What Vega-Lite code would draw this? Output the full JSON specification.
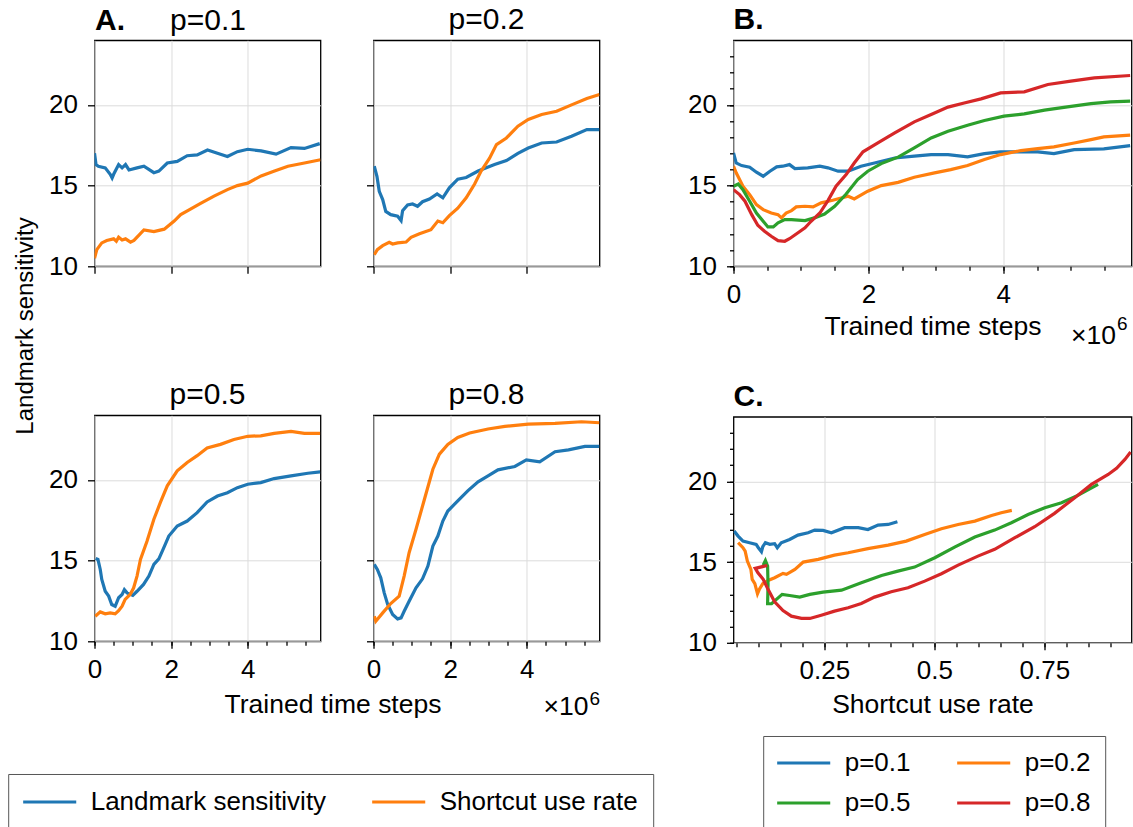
{
  "$schema": "https://vega.github.io/schema/vega-lite/v6.json",
  "background": "white",
  "padding": {"left": 7.5, "top": 4.3, "right": 2, "bottom": 0},
  "config": {
    "font": "Liberation Sans",
    "view": {"stroke": "black", "strokeWidth": 1.3},
    "axis": {"labelFont": "Liberation Sans", "labelFontSize": 26, "labelColor": "black", "titleFont": "Liberation Sans", "titleFontSize": 26.5, "titleFontWeight": "normal", "titleColor": "black", "tickColor": "black", "tickSize": 7, "tickWidth": 1.3, "domain": false, "gridColor": "#dcdcdc", "gridWidth": 1, "labelFlush": false, "labelOverlap": false},
    "axisX": {"labelPadding": 8},
    "axisY": {"labelPadding": 10},
    "title": {"font": "Liberation Sans", "fontSize": 30, "fontWeight": "normal", "color": "black", "offset": 5, "frame": "group", "anchor": "middle"},
    "legend": {"labelFont": "Liberation Sans"}
  },
  "datasets": {
    "a": [
      {"p":"p=0.1","s":"Landmark sensitivity","t":0,"v":17.0},{"p":"p=0.1","s":"Landmark sensitivity","t":0.04,"v":16.3},{"p":"p=0.1","s":"Landmark sensitivity","t":0.1,"v":16.2},{"p":"p=0.1","s":"Landmark sensitivity","t":0.28,"v":16.1},{"p":"p=0.1","s":"Landmark sensitivity","t":0.41,"v":15.7},{"p":"p=0.1","s":"Landmark sensitivity","t":0.46,"v":15.47},{"p":"p=0.1","s":"Landmark sensitivity","t":0.5,"v":15.7},{"p":"p=0.1","s":"Landmark sensitivity","t":0.63,"v":16.3},{"p":"p=0.1","s":"Landmark sensitivity","t":0.72,"v":16.1},{"p":"p=0.1","s":"Landmark sensitivity","t":0.81,"v":16.3},{"p":"p=0.1","s":"Landmark sensitivity","t":0.9,"v":15.97},{"p":"p=0.1","s":"Landmark sensitivity","t":1.11,"v":16.1},{"p":"p=0.1","s":"Landmark sensitivity","t":1.29,"v":16.2},{"p":"p=0.1","s":"Landmark sensitivity","t":1.55,"v":15.8},{"p":"p=0.1","s":"Landmark sensitivity","t":1.68,"v":15.9},{"p":"p=0.1","s":"Landmark sensitivity","t":1.9,"v":16.4},{"p":"p=0.1","s":"Landmark sensitivity","t":2.16,"v":16.5},{"p":"p=0.1","s":"Landmark sensitivity","t":2.42,"v":16.85},{"p":"p=0.1","s":"Landmark sensitivity","t":2.68,"v":16.9},{"p":"p=0.1","s":"Landmark sensitivity","t":2.95,"v":17.2},{"p":"p=0.1","s":"Landmark sensitivity","t":3.21,"v":17.0},{"p":"p=0.1","s":"Landmark sensitivity","t":3.47,"v":16.8},{"p":"p=0.1","s":"Landmark sensitivity","t":3.73,"v":17.1},{"p":"p=0.1","s":"Landmark sensitivity","t":4.0,"v":17.25},{"p":"p=0.1","s":"Landmark sensitivity","t":4.35,"v":17.15},{"p":"p=0.1","s":"Landmark sensitivity","t":4.74,"v":16.95},{"p":"p=0.1","s":"Landmark sensitivity","t":5.13,"v":17.35},{"p":"p=0.1","s":"Landmark sensitivity","t":5.48,"v":17.3},{"p":"p=0.1","s":"Landmark sensitivity","t":5.88,"v":17.6},
      {"p":"p=0.1","s":"Shortcut use rate","t":0,"v":10.5},{"p":"p=0.1","s":"Shortcut use rate","t":0.06,"v":11.03},{"p":"p=0.1","s":"Shortcut use rate","t":0.19,"v":11.45},{"p":"p=0.1","s":"Shortcut use rate","t":0.32,"v":11.6},{"p":"p=0.1","s":"Shortcut use rate","t":0.5,"v":11.7},{"p":"p=0.1","s":"Shortcut use rate","t":0.57,"v":11.55},{"p":"p=0.1","s":"Shortcut use rate","t":0.63,"v":11.8},{"p":"p=0.1","s":"Shortcut use rate","t":0.72,"v":11.63},{"p":"p=0.1","s":"Shortcut use rate","t":0.81,"v":11.7},{"p":"p=0.1","s":"Shortcut use rate","t":0.94,"v":11.5},{"p":"p=0.1","s":"Shortcut use rate","t":1.03,"v":11.6},{"p":"p=0.1","s":"Shortcut use rate","t":1.29,"v":12.25},{"p":"p=0.1","s":"Shortcut use rate","t":1.55,"v":12.15},{"p":"p=0.1","s":"Shortcut use rate","t":1.82,"v":12.3},{"p":"p=0.1","s":"Shortcut use rate","t":2.08,"v":12.8},{"p":"p=0.1","s":"Shortcut use rate","t":2.25,"v":13.2},{"p":"p=0.1","s":"Shortcut use rate","t":2.47,"v":13.5},{"p":"p=0.1","s":"Shortcut use rate","t":2.77,"v":13.9},{"p":"p=0.1","s":"Shortcut use rate","t":3.12,"v":14.35},{"p":"p=0.1","s":"Shortcut use rate","t":3.47,"v":14.75},{"p":"p=0.1","s":"Shortcut use rate","t":3.73,"v":15.0},{"p":"p=0.1","s":"Shortcut use rate","t":4.0,"v":15.15},{"p":"p=0.1","s":"Shortcut use rate","t":4.35,"v":15.6},{"p":"p=0.1","s":"Shortcut use rate","t":4.7,"v":15.9},{"p":"p=0.1","s":"Shortcut use rate","t":5.05,"v":16.2},{"p":"p=0.1","s":"Shortcut use rate","t":5.48,"v":16.4},{"p":"p=0.1","s":"Shortcut use rate","t":5.9,"v":16.6},
      {"p":"p=0.2","s":"Landmark sensitivity","t":0.02,"v":16.2},{"p":"p=0.2","s":"Landmark sensitivity","t":0.09,"v":15.58},{"p":"p=0.2","s":"Landmark sensitivity","t":0.15,"v":14.65},{"p":"p=0.2","s":"Landmark sensitivity","t":0.24,"v":14.13},{"p":"p=0.2","s":"Landmark sensitivity","t":0.32,"v":13.4},{"p":"p=0.2","s":"Landmark sensitivity","t":0.45,"v":13.2},{"p":"p=0.2","s":"Landmark sensitivity","t":0.63,"v":13.1},{"p":"p=0.2","s":"Landmark sensitivity","t":0.72,"v":12.83},{"p":"p=0.2","s":"Landmark sensitivity","t":0.76,"v":13.45},{"p":"p=0.2","s":"Landmark sensitivity","t":0.89,"v":13.8},{"p":"p=0.2","s":"Landmark sensitivity","t":1.02,"v":13.86},{"p":"p=0.2","s":"Landmark sensitivity","t":1.15,"v":13.72},{"p":"p=0.2","s":"Landmark sensitivity","t":1.28,"v":14.0},{"p":"p=0.2","s":"Landmark sensitivity","t":1.46,"v":14.17},{"p":"p=0.2","s":"Landmark sensitivity","t":1.66,"v":14.48},{"p":"p=0.2","s":"Landmark sensitivity","t":1.81,"v":14.24},{"p":"p=0.2","s":"Landmark sensitivity","t":1.98,"v":14.86},{"p":"p=0.2","s":"Landmark sensitivity","t":2.2,"v":15.4},{"p":"p=0.2","s":"Landmark sensitivity","t":2.42,"v":15.5},{"p":"p=0.2","s":"Landmark sensitivity","t":2.73,"v":15.9},{"p":"p=0.2","s":"Landmark sensitivity","t":3.16,"v":16.3},{"p":"p=0.2","s":"Landmark sensitivity","t":3.47,"v":16.55},{"p":"p=0.2","s":"Landmark sensitivity","t":3.77,"v":17.0},{"p":"p=0.2","s":"Landmark sensitivity","t":4.04,"v":17.33},{"p":"p=0.2","s":"Landmark sensitivity","t":4.39,"v":17.64},{"p":"p=0.2","s":"Landmark sensitivity","t":4.78,"v":17.7},{"p":"p=0.2","s":"Landmark sensitivity","t":5.17,"v":18.06},{"p":"p=0.2","s":"Landmark sensitivity","t":5.57,"v":18.47},{"p":"p=0.2","s":"Landmark sensitivity","t":5.9,"v":18.47},
      {"p":"p=0.2","s":"Shortcut use rate","t":0.02,"v":10.72},{"p":"p=0.2","s":"Shortcut use rate","t":0.1,"v":11.03},{"p":"p=0.2","s":"Shortcut use rate","t":0.24,"v":11.28},{"p":"p=0.2","s":"Shortcut use rate","t":0.41,"v":11.49},{"p":"p=0.2","s":"Shortcut use rate","t":0.5,"v":11.38},{"p":"p=0.2","s":"Shortcut use rate","t":0.63,"v":11.45},{"p":"p=0.2","s":"Shortcut use rate","t":0.85,"v":11.5},{"p":"p=0.2","s":"Shortcut use rate","t":0.98,"v":11.8},{"p":"p=0.2","s":"Shortcut use rate","t":1.2,"v":12.02},{"p":"p=0.2","s":"Shortcut use rate","t":1.5,"v":12.27},{"p":"p=0.2","s":"Shortcut use rate","t":1.68,"v":12.8},{"p":"p=0.2","s":"Shortcut use rate","t":1.81,"v":12.7},{"p":"p=0.2","s":"Shortcut use rate","t":1.98,"v":13.14},{"p":"p=0.2","s":"Shortcut use rate","t":2.2,"v":13.6},{"p":"p=0.2","s":"Shortcut use rate","t":2.42,"v":14.24},{"p":"p=0.2","s":"Shortcut use rate","t":2.64,"v":15.1},{"p":"p=0.2","s":"Shortcut use rate","t":2.81,"v":15.9},{"p":"p=0.2","s":"Shortcut use rate","t":3.03,"v":16.7},{"p":"p=0.2","s":"Shortcut use rate","t":3.21,"v":17.54},{"p":"p=0.2","s":"Shortcut use rate","t":3.47,"v":17.95},{"p":"p=0.2","s":"Shortcut use rate","t":3.77,"v":18.68},{"p":"p=0.2","s":"Shortcut use rate","t":4.04,"v":19.1},{"p":"p=0.2","s":"Shortcut use rate","t":4.39,"v":19.4},{"p":"p=0.2","s":"Shortcut use rate","t":4.78,"v":19.6},{"p":"p=0.2","s":"Shortcut use rate","t":5.17,"v":20.0},{"p":"p=0.2","s":"Shortcut use rate","t":5.57,"v":20.4},{"p":"p=0.2","s":"Shortcut use rate","t":5.9,"v":20.64},
      {"p":"p=0.5","s":"Landmark sensitivity","t":0.03,"v":15.13},{"p":"p=0.5","s":"Landmark sensitivity","t":0.09,"v":15.07},{"p":"p=0.5","s":"Landmark sensitivity","t":0.15,"v":14.45},{"p":"p=0.5","s":"Landmark sensitivity","t":0.19,"v":13.83},{"p":"p=0.5","s":"Landmark sensitivity","t":0.28,"v":13.1},{"p":"p=0.5","s":"Landmark sensitivity","t":0.37,"v":12.8},{"p":"p=0.5","s":"Landmark sensitivity","t":0.45,"v":12.28},{"p":"p=0.5","s":"Landmark sensitivity","t":0.54,"v":12.17},{"p":"p=0.5","s":"Landmark sensitivity","t":0.63,"v":12.7},{"p":"p=0.5","s":"Landmark sensitivity","t":0.72,"v":12.9},{"p":"p=0.5","s":"Landmark sensitivity","t":0.78,"v":13.2},{"p":"p=0.5","s":"Landmark sensitivity","t":0.85,"v":13.0},{"p":"p=0.5","s":"Landmark sensitivity","t":1.0,"v":12.84},{"p":"p=0.5","s":"Landmark sensitivity","t":1.11,"v":13.1},{"p":"p=0.5","s":"Landmark sensitivity","t":1.28,"v":13.52},{"p":"p=0.5","s":"Landmark sensitivity","t":1.42,"v":14.04},{"p":"p=0.5","s":"Landmark sensitivity","t":1.55,"v":14.76},{"p":"p=0.5","s":"Landmark sensitivity","t":1.68,"v":15.11},{"p":"p=0.5","s":"Landmark sensitivity","t":1.81,"v":15.8},{"p":"p=0.5","s":"Landmark sensitivity","t":1.94,"v":16.52},{"p":"p=0.5","s":"Landmark sensitivity","t":2.16,"v":17.14},{"p":"p=0.5","s":"Landmark sensitivity","t":2.42,"v":17.45},{"p":"p=0.5","s":"Landmark sensitivity","t":2.68,"v":17.97},{"p":"p=0.5","s":"Landmark sensitivity","t":2.94,"v":18.63},{"p":"p=0.5","s":"Landmark sensitivity","t":3.21,"v":19.0},{"p":"p=0.5","s":"Landmark sensitivity","t":3.47,"v":19.2},{"p":"p=0.5","s":"Landmark sensitivity","t":3.73,"v":19.52},{"p":"p=0.5","s":"Landmark sensitivity","t":4.0,"v":19.73},{"p":"p=0.5","s":"Landmark sensitivity","t":4.34,"v":19.83},{"p":"p=0.5","s":"Landmark sensitivity","t":4.69,"v":20.08},{"p":"p=0.5","s":"Landmark sensitivity","t":5.13,"v":20.25},{"p":"p=0.5","s":"Landmark sensitivity","t":5.57,"v":20.41},{"p":"p=0.5","s":"Landmark sensitivity","t":5.89,"v":20.5},
      {"p":"p=0.5","s":"Shortcut use rate","t":0.02,"v":11.55},{"p":"p=0.5","s":"Shortcut use rate","t":0.15,"v":11.82},{"p":"p=0.5","s":"Shortcut use rate","t":0.28,"v":11.7},{"p":"p=0.5","s":"Shortcut use rate","t":0.41,"v":11.76},{"p":"p=0.5","s":"Shortcut use rate","t":0.54,"v":11.7},{"p":"p=0.5","s":"Shortcut use rate","t":0.63,"v":11.9},{"p":"p=0.5","s":"Shortcut use rate","t":0.72,"v":12.17},{"p":"p=0.5","s":"Shortcut use rate","t":0.8,"v":12.6},{"p":"p=0.5","s":"Shortcut use rate","t":0.93,"v":12.9},{"p":"p=0.5","s":"Shortcut use rate","t":1.02,"v":13.3},{"p":"p=0.5","s":"Shortcut use rate","t":1.11,"v":14.04},{"p":"p=0.5","s":"Shortcut use rate","t":1.2,"v":15.07},{"p":"p=0.5","s":"Shortcut use rate","t":1.37,"v":16.2},{"p":"p=0.5","s":"Shortcut use rate","t":1.55,"v":17.56},{"p":"p=0.5","s":"Shortcut use rate","t":1.72,"v":18.6},{"p":"p=0.5","s":"Shortcut use rate","t":1.9,"v":19.63},{"p":"p=0.5","s":"Shortcut use rate","t":2.16,"v":20.56},{"p":"p=0.5","s":"Shortcut use rate","t":2.42,"v":21.08},{"p":"p=0.5","s":"Shortcut use rate","t":2.68,"v":21.5},{"p":"p=0.5","s":"Shortcut use rate","t":2.94,"v":21.97},{"p":"p=0.5","s":"Shortcut use rate","t":3.29,"v":22.2},{"p":"p=0.5","s":"Shortcut use rate","t":3.64,"v":22.5},{"p":"p=0.5","s":"Shortcut use rate","t":4.0,"v":22.7},{"p":"p=0.5","s":"Shortcut use rate","t":4.34,"v":22.73},{"p":"p=0.5","s":"Shortcut use rate","t":4.69,"v":22.88},{"p":"p=0.5","s":"Shortcut use rate","t":5.13,"v":23.0},{"p":"p=0.5","s":"Shortcut use rate","t":5.48,"v":22.88},{"p":"p=0.5","s":"Shortcut use rate","t":5.89,"v":22.88},
      {"p":"p=0.8","s":"Landmark sensitivity","t":0.02,"v":14.76},{"p":"p=0.8","s":"Landmark sensitivity","t":0.1,"v":14.45},{"p":"p=0.8","s":"Landmark sensitivity","t":0.19,"v":13.93},{"p":"p=0.8","s":"Landmark sensitivity","t":0.28,"v":13.0},{"p":"p=0.8","s":"Landmark sensitivity","t":0.37,"v":12.28},{"p":"p=0.8","s":"Landmark sensitivity","t":0.5,"v":11.66},{"p":"p=0.8","s":"Landmark sensitivity","t":0.63,"v":11.39},{"p":"p=0.8","s":"Landmark sensitivity","t":0.72,"v":11.45},{"p":"p=0.8","s":"Landmark sensitivity","t":0.8,"v":11.86},{"p":"p=0.8","s":"Landmark sensitivity","t":0.93,"v":12.48},{"p":"p=0.8","s":"Landmark sensitivity","t":1.11,"v":13.31},{"p":"p=0.8","s":"Landmark sensitivity","t":1.28,"v":13.87},{"p":"p=0.8","s":"Landmark sensitivity","t":1.42,"v":14.66},{"p":"p=0.8","s":"Landmark sensitivity","t":1.55,"v":15.9},{"p":"p=0.8","s":"Landmark sensitivity","t":1.68,"v":16.52},{"p":"p=0.8","s":"Landmark sensitivity","t":1.81,"v":17.45},{"p":"p=0.8","s":"Landmark sensitivity","t":1.94,"v":18.07},{"p":"p=0.8","s":"Landmark sensitivity","t":2.2,"v":18.7},{"p":"p=0.8","s":"Landmark sensitivity","t":2.46,"v":19.32},{"p":"p=0.8","s":"Landmark sensitivity","t":2.73,"v":19.88},{"p":"p=0.8","s":"Landmark sensitivity","t":2.99,"v":20.25},{"p":"p=0.8","s":"Landmark sensitivity","t":3.25,"v":20.62},{"p":"p=0.8","s":"Landmark sensitivity","t":3.69,"v":20.83},{"p":"p=0.8","s":"Landmark sensitivity","t":3.99,"v":21.24},{"p":"p=0.8","s":"Landmark sensitivity","t":4.34,"v":21.12},{"p":"p=0.8","s":"Landmark sensitivity","t":4.74,"v":21.74},{"p":"p=0.8","s":"Landmark sensitivity","t":5.09,"v":21.86},{"p":"p=0.8","s":"Landmark sensitivity","t":5.52,"v":22.07},{"p":"p=0.8","s":"Landmark sensitivity","t":5.9,"v":22.07},
      {"p":"p=0.8","s":"Shortcut use rate","t":0.02,"v":11.55},{"p":"p=0.8","s":"Shortcut use rate","t":0.06,"v":11.24},{"p":"p=0.8","s":"Shortcut use rate","t":0.24,"v":11.76},{"p":"p=0.8","s":"Shortcut use rate","t":0.45,"v":12.34},{"p":"p=0.8","s":"Shortcut use rate","t":0.67,"v":12.8},{"p":"p=0.8","s":"Shortcut use rate","t":0.8,"v":14.04},{"p":"p=0.8","s":"Shortcut use rate","t":0.93,"v":15.49},{"p":"p=0.8","s":"Shortcut use rate","t":1.11,"v":16.94},{"p":"p=0.8","s":"Shortcut use rate","t":1.33,"v":18.8},{"p":"p=0.8","s":"Shortcut use rate","t":1.55,"v":20.66},{"p":"p=0.8","s":"Shortcut use rate","t":1.72,"v":21.59},{"p":"p=0.8","s":"Shortcut use rate","t":1.94,"v":22.2},{"p":"p=0.8","s":"Shortcut use rate","t":2.2,"v":22.63},{"p":"p=0.8","s":"Shortcut use rate","t":2.51,"v":22.9},{"p":"p=0.8","s":"Shortcut use rate","t":2.99,"v":23.15},{"p":"p=0.8","s":"Shortcut use rate","t":3.43,"v":23.31},{"p":"p=0.8","s":"Shortcut use rate","t":4.04,"v":23.45},{"p":"p=0.8","s":"Shortcut use rate","t":4.74,"v":23.5},{"p":"p=0.8","s":"Shortcut use rate","t":5.43,"v":23.6},{"p":"p=0.8","s":"Shortcut use rate","t":5.9,"v":23.54}
    ],
    "b": [
      {"p":"p=0.1","t":0,"v":17.02},{"p":"p=0.1","t":0.04,"v":16.4},{"p":"p=0.1","t":0.12,"v":16.24},{"p":"p=0.1","t":0.24,"v":16.14},{"p":"p=0.1","t":0.34,"v":15.83},{"p":"p=0.1","t":0.44,"v":15.58},{"p":"p=0.1","t":0.54,"v":15.89},{"p":"p=0.1","t":0.64,"v":16.16},{"p":"p=0.1","t":0.73,"v":16.2},{"p":"p=0.1","t":0.83,"v":16.3},{"p":"p=0.1","t":0.91,"v":16.05},{"p":"p=0.1","t":1.1,"v":16.1},{"p":"p=0.1","t":1.28,"v":16.2},{"p":"p=0.1","t":1.4,"v":16.1},{"p":"p=0.1","t":1.55,"v":15.89},{"p":"p=0.1","t":1.7,"v":15.89},{"p":"p=0.1","t":1.89,"v":16.2},{"p":"p=0.1","t":2.09,"v":16.4},{"p":"p=0.1","t":2.39,"v":16.71},{"p":"p=0.1","t":2.68,"v":16.82},{"p":"p=0.1","t":2.93,"v":16.92},{"p":"p=0.1","t":3.18,"v":16.92},{"p":"p=0.1","t":3.47,"v":16.78},{"p":"p=0.1","t":3.72,"v":16.98},{"p":"p=0.1","t":3.96,"v":17.09},{"p":"p=0.1","t":4.26,"v":17.09},{"p":"p=0.1","t":4.51,"v":17.09},{"p":"p=0.1","t":4.75,"v":16.98},{"p":"p=0.1","t":5.05,"v":17.23},{"p":"p=0.1","t":5.49,"v":17.27},{"p":"p=0.1","t":5.88,"v":17.48},
      {"p":"p=0.2","t":0,"v":16.2},{"p":"p=0.2","t":0.04,"v":15.79},{"p":"p=0.2","t":0.14,"v":14.96},{"p":"p=0.2","t":0.24,"v":14.44},{"p":"p=0.2","t":0.34,"v":13.82},{"p":"p=0.2","t":0.44,"v":13.51},{"p":"p=0.2","t":0.56,"v":13.3},{"p":"p=0.2","t":0.66,"v":13.2},{"p":"p=0.2","t":0.71,"v":13.0},{"p":"p=0.2","t":0.78,"v":13.3},{"p":"p=0.2","t":0.86,"v":13.45},{"p":"p=0.2","t":0.93,"v":13.68},{"p":"p=0.2","t":1.06,"v":13.72},{"p":"p=0.2","t":1.18,"v":13.68},{"p":"p=0.2","t":1.3,"v":13.93},{"p":"p=0.2","t":1.47,"v":14.09},{"p":"p=0.2","t":1.7,"v":14.34},{"p":"p=0.2","t":1.79,"v":14.17},{"p":"p=0.2","t":1.99,"v":14.65},{"p":"p=0.2","t":2.19,"v":15.0},{"p":"p=0.2","t":2.44,"v":15.2},{"p":"p=0.2","t":2.68,"v":15.52},{"p":"p=0.2","t":2.98,"v":15.79},{"p":"p=0.2","t":3.22,"v":15.99},{"p":"p=0.2","t":3.47,"v":16.24},{"p":"p=0.2","t":3.72,"v":16.61},{"p":"p=0.2","t":3.96,"v":16.92},{"p":"p=0.2","t":4.26,"v":17.17},{"p":"p=0.2","t":4.51,"v":17.29},{"p":"p=0.2","t":4.75,"v":17.4},{"p":"p=0.2","t":5.05,"v":17.64},{"p":"p=0.2","t":5.3,"v":17.85},{"p":"p=0.2","t":5.49,"v":18.02},{"p":"p=0.2","t":5.88,"v":18.12},
      {"p":"p=0.5","t":0,"v":14.96},{"p":"p=0.5","t":0.07,"v":15.1},{"p":"p=0.5","t":0.14,"v":14.75},{"p":"p=0.5","t":0.24,"v":14.03},{"p":"p=0.5","t":0.34,"v":13.3},{"p":"p=0.5","t":0.44,"v":12.79},{"p":"p=0.5","t":0.51,"v":12.44},{"p":"p=0.5","t":0.59,"v":12.44},{"p":"p=0.5","t":0.66,"v":12.69},{"p":"p=0.5","t":0.76,"v":12.89},{"p":"p=0.5","t":0.86,"v":12.89},{"p":"p=0.5","t":1.06,"v":12.83},{"p":"p=0.5","t":1.2,"v":13.0},{"p":"p=0.5","t":1.35,"v":13.24},{"p":"p=0.5","t":1.5,"v":13.72},{"p":"p=0.5","t":1.67,"v":14.48},{"p":"p=0.5","t":1.84,"v":15.37},{"p":"p=0.5","t":1.99,"v":15.89},{"p":"p=0.5","t":2.19,"v":16.36},{"p":"p=0.5","t":2.44,"v":16.76},{"p":"p=0.5","t":2.68,"v":17.33},{"p":"p=0.5","t":2.93,"v":17.95},{"p":"p=0.5","t":3.18,"v":18.37},{"p":"p=0.5","t":3.47,"v":18.74},{"p":"p=0.5","t":3.72,"v":19.03},{"p":"p=0.5","t":4.01,"v":19.3},{"p":"p=0.5","t":4.31,"v":19.44},{"p":"p=0.5","t":4.61,"v":19.67},{"p":"p=0.5","t":4.95,"v":19.88},{"p":"p=0.5","t":5.3,"v":20.08},{"p":"p=0.5","t":5.59,"v":20.19},{"p":"p=0.5","t":5.88,"v":20.23},
      {"p":"p=0.8","t":0,"v":14.75},{"p":"p=0.8","t":0.09,"v":14.44},{"p":"p=0.8","t":0.17,"v":14.03},{"p":"p=0.8","t":0.27,"v":13.2},{"p":"p=0.8","t":0.36,"v":12.54},{"p":"p=0.8","t":0.46,"v":12.17},{"p":"p=0.8","t":0.56,"v":11.86},{"p":"p=0.8","t":0.66,"v":11.59},{"p":"p=0.8","t":0.76,"v":11.55},{"p":"p=0.8","t":0.83,"v":11.71},{"p":"p=0.8","t":0.93,"v":12.0},{"p":"p=0.8","t":1.06,"v":12.38},{"p":"p=0.8","t":1.15,"v":12.79},{"p":"p=0.8","t":1.28,"v":13.3},{"p":"p=0.8","t":1.4,"v":14.07},{"p":"p=0.8","t":1.52,"v":14.96},{"p":"p=0.8","t":1.67,"v":15.68},{"p":"p=0.8","t":1.79,"v":16.4},{"p":"p=0.8","t":1.92,"v":17.09},{"p":"p=0.8","t":2.14,"v":17.64},{"p":"p=0.8","t":2.39,"v":18.26},{"p":"p=0.8","t":2.68,"v":18.95},{"p":"p=0.8","t":2.93,"v":19.4},{"p":"p=0.8","t":3.18,"v":19.86},{"p":"p=0.8","t":3.42,"v":20.12},{"p":"p=0.8","t":3.67,"v":20.37},{"p":"p=0.8","t":3.96,"v":20.74},{"p":"p=0.8","t":4.31,"v":20.81},{"p":"p=0.8","t":4.66,"v":21.26},{"p":"p=0.8","t":5.0,"v":21.47},{"p":"p=0.8","t":5.35,"v":21.67},{"p":"p=0.8","t":5.88,"v":21.82}
    ],
    "c": [
      {"p":"p=0.1","i":0,"r":0.045,"v":16.92},{"p":"p=0.1","i":1,"r":0.054,"v":16.61},{"p":"p=0.1","i":2,"r":0.065,"v":16.3},{"p":"p=0.1","i":3,"r":0.08,"v":16.2},{"p":"p=0.1","i":4,"r":0.095,"v":16.1},{"p":"p=0.1","i":5,"r":0.1,"v":15.89},{"p":"p=0.1","i":6,"r":0.107,"v":15.64},{"p":"p=0.1","i":7,"r":0.11,"v":15.95},{"p":"p=0.1","i":8,"r":0.116,"v":16.2},{"p":"p=0.1","i":9,"r":0.126,"v":16.1},{"p":"p=0.1","i":10,"r":0.137,"v":16.14},{"p":"p=0.1","i":11,"r":0.143,"v":15.89},{"p":"p=0.1","i":12,"r":0.152,"v":16.2},{"p":"p=0.1","i":13,"r":0.171,"v":16.4},{"p":"p=0.1","i":14,"r":0.19,"v":16.67},{"p":"p=0.1","i":15,"r":0.213,"v":16.82},{"p":"p=0.1","i":16,"r":0.228,"v":16.98},{"p":"p=0.1","i":17,"r":0.247,"v":16.96},{"p":"p=0.1","i":18,"r":0.266,"v":16.82},{"p":"p=0.1","i":19,"r":0.296,"v":17.13},{"p":"p=0.1","i":20,"r":0.327,"v":17.13},{"p":"p=0.1","i":21,"r":0.349,"v":17.02},{"p":"p=0.1","i":22,"r":0.372,"v":17.29},{"p":"p=0.1","i":23,"r":0.395,"v":17.33},{"p":"p=0.1","i":24,"r":0.416,"v":17.5},
      {"p":"p=0.2","i":0,"r":0.054,"v":16.2},{"p":"p=0.2","i":1,"r":0.065,"v":15.89},{"p":"p=0.2","i":2,"r":0.07,"v":15.68},{"p":"p=0.2","i":3,"r":0.075,"v":15.06},{"p":"p=0.2","i":4,"r":0.083,"v":14.55},{"p":"p=0.2","i":5,"r":0.086,"v":13.93},{"p":"p=0.2","i":6,"r":0.092,"v":13.66},{"p":"p=0.2","i":7,"r":0.098,"v":13.04},{"p":"p=0.2","i":8,"r":0.102,"v":13.3},{"p":"p=0.2","i":9,"r":0.11,"v":13.66},{"p":"p=0.2","i":10,"r":0.122,"v":13.86},{"p":"p=0.2","i":11,"r":0.137,"v":14.03},{"p":"p=0.2","i":12,"r":0.156,"v":14.3},{"p":"p=0.2","i":13,"r":0.164,"v":14.24},{"p":"p=0.2","i":14,"r":0.183,"v":14.55},{"p":"p=0.2","i":15,"r":0.202,"v":15.0},{"p":"p=0.2","i":16,"r":0.236,"v":15.17},{"p":"p=0.2","i":17,"r":0.273,"v":15.43},{"p":"p=0.2","i":18,"r":0.304,"v":15.58},{"p":"p=0.2","i":19,"r":0.349,"v":15.83},{"p":"p=0.2","i":20,"r":0.395,"v":16.05},{"p":"p=0.2","i":21,"r":0.436,"v":16.3},{"p":"p=0.2","i":22,"r":0.478,"v":16.71},{"p":"p=0.2","i":23,"r":0.516,"v":17.07},{"p":"p=0.2","i":24,"r":0.554,"v":17.33},{"p":"p=0.2","i":25,"r":0.592,"v":17.54},{"p":"p=0.2","i":26,"r":0.63,"v":17.89},{"p":"p=0.2","i":27,"r":0.652,"v":18.06},{"p":"p=0.2","i":28,"r":0.676,"v":18.2},
      {"p":"p=0.5","i":0,"r":0.111,"v":14.81},{"p":"p=0.5","i":1,"r":0.116,"v":15.1},{"p":"p=0.5","i":2,"r":0.121,"v":14.75},{"p":"p=0.5","i":3,"r":0.122,"v":13.62},{"p":"p=0.5","i":4,"r":0.121,"v":12.42},{"p":"p=0.5","i":5,"r":0.13,"v":12.42},{"p":"p=0.5","i":6,"r":0.141,"v":12.69},{"p":"p=0.5","i":7,"r":0.154,"v":13.0},{"p":"p=0.5","i":8,"r":0.171,"v":12.93},{"p":"p=0.5","i":9,"r":0.194,"v":12.83},{"p":"p=0.5","i":10,"r":0.217,"v":13.0},{"p":"p=0.5","i":11,"r":0.247,"v":13.14},{"p":"p=0.5","i":12,"r":0.289,"v":13.26},{"p":"p=0.5","i":13,"r":0.334,"v":13.72},{"p":"p=0.5","i":14,"r":0.38,"v":14.17},{"p":"p=0.5","i":15,"r":0.417,"v":14.44},{"p":"p=0.5","i":16,"r":0.455,"v":14.69},{"p":"p=0.5","i":17,"r":0.501,"v":15.27},{"p":"p=0.5","i":18,"r":0.546,"v":15.93},{"p":"p=0.5","i":19,"r":0.592,"v":16.55},{"p":"p=0.5","i":20,"r":0.637,"v":16.98},{"p":"p=0.5","i":21,"r":0.675,"v":17.44},{"p":"p=0.5","i":22,"r":0.713,"v":17.95},{"p":"p=0.5","i":23,"r":0.751,"v":18.37},{"p":"p=0.5","i":24,"r":0.789,"v":18.68},{"p":"p=0.5","i":25,"r":0.826,"v":19.13},{"p":"p=0.5","i":26,"r":0.872,"v":19.81},
      {"p":"p=0.8","i":0,"r":0.12,"v":14.79},{"p":"p=0.8","i":1,"r":0.093,"v":14.61},{"p":"p=0.8","i":2,"r":0.099,"v":14.34},{"p":"p=0.8","i":3,"r":0.111,"v":13.93},{"p":"p=0.8","i":4,"r":0.122,"v":13.31},{"p":"p=0.8","i":5,"r":0.137,"v":12.54},{"p":"p=0.8","i":6,"r":0.156,"v":12.0},{"p":"p=0.8","i":7,"r":0.175,"v":11.65},{"p":"p=0.8","i":8,"r":0.198,"v":11.51},{"p":"p=0.8","i":9,"r":0.217,"v":11.51},{"p":"p=0.8","i":10,"r":0.243,"v":11.71},{"p":"p=0.8","i":11,"r":0.273,"v":11.96},{"p":"p=0.8","i":12,"r":0.304,"v":12.17},{"p":"p=0.8","i":13,"r":0.334,"v":12.44},{"p":"p=0.8","i":14,"r":0.364,"v":12.83},{"p":"p=0.8","i":15,"r":0.402,"v":13.16},{"p":"p=0.8","i":16,"r":0.44,"v":13.41},{"p":"p=0.8","i":17,"r":0.478,"v":13.82},{"p":"p=0.8","i":18,"r":0.516,"v":14.28},{"p":"p=0.8","i":19,"r":0.554,"v":14.81},{"p":"p=0.8","i":20,"r":0.599,"v":15.37},{"p":"p=0.8","i":21,"r":0.637,"v":15.79},{"p":"p=0.8","i":22,"r":0.683,"v":16.51},{"p":"p=0.8","i":23,"r":0.728,"v":17.19},{"p":"p=0.8","i":24,"r":0.773,"v":18.02},{"p":"p=0.8","i":25,"r":0.819,"v":18.99},{"p":"p=0.8","i":26,"r":0.857,"v":19.81},{"p":"p=0.8","i":27,"r":0.895,"v":20.43},{"p":"p=0.8","i":28,"r":0.914,"v":20.81},{"p":"p=0.8","i":29,"r":0.933,"v":21.36},{"p":"p=0.8","i":30,"r":0.946,"v":21.82}
    ]
  },
  "spacing": 86,
  "hconcat": [
    {
      "concat": [
        {
          "width": 226, "height": 226,
          "data": {"name": "a"},
          "transform": [{"filter": "datum.p == 'p=0.1'"}],
          "layer": [
            {"mark": {"type": "line", "strokeWidth": 3.2, "clip": true},
             "encoding": {
               "x": {"field": "t", "type": "quantitative", "scale": {"domain": [0, 5.9], "nice": false, "zero": false}, "axis": {"values": [0, 2, 4], "labels": false, "title": null, "grid": true}},
               "y": {"field": "v", "type": "quantitative", "scale": {"domain": [10, 24], "nice": false, "zero": false}, "axis": {"values": [10, 15, 20], "grid": true, "title": "Landmark sensitivity", "titleFontSize": 24, "titleX": -62, "titleY": 285.2, "titleAlign": "center", "titleAngle": 270, "titleBaseline": "alphabetic"}},
               "color": {"field": "s", "type": "nominal", "scale": {"domain": ["Landmark sensitivity", "Shortcut use rate"], "range": ["#1f77b4", "#ff7f0e"]},
                 "legend": {"orient": "none", "legendX": -86.3, "legendY": 733.7, "direction": "horizontal", "columns": 2, "title": null, "symbolType": "M-4,0H4", "symbolSize": 176, "symbolStrokeWidth": 3, "symbolOffset": 13.5, "labelOffset": 28, "labelFontSize": 26, "labelColor": "black", "strokeColor": "#555555", "fillColor": "white", "padding": 15, "columnPadding": 38, "labelLimit": 500}}
             }},
            {"mark": {"type": "line", "opacity": 0},
             "encoding": {
               "x": {"field": "t", "type": "quantitative", "scale": {"domain": [0, 5.9], "nice": false, "zero": false}, "axis": {"orient": "top", "labels": false, "ticks": false, "grid": false, "title": "p=0.1", "titleFontSize": 30, "titleY": -11, "titleBaseline": "alphabetic"}},
               "y": {"field": "v", "type": "quantitative", "scale": {"domain": [10, 24], "nice": false, "zero": false}, "axis": {"values": [10, 15, 20], "grid": true, "title": "Landmark sensitivity", "titleFontSize": 24, "titleX": -62, "titleY": 285.2, "titleAlign": "center", "titleAngle": 270, "titleBaseline": "alphabetic"}}
             }},
            {"mark": {"type": "line", "opacity": 0},
             "encoding": {
               "x": {"field": "t", "type": "quantitative", "scale": {"domain": [0, 5.9], "nice": false, "zero": false}, "axis": {"orient": "top", "labels": false, "ticks": false, "grid": false, "title": "A.", "titleFontSize": 30, "titleFontWeight": "bold", "titleX": 0, "titleAlign": "left", "titleY": -11, "titleBaseline": "alphabetic"}},
               "y": {"field": "v", "type": "quantitative", "scale": {"domain": [10, 24], "nice": false, "zero": false}, "axis": {"values": [10, 15, 20], "grid": true, "title": "Landmark sensitivity", "titleFontSize": 24, "titleX": -62, "titleY": 285.2, "titleAlign": "center", "titleAngle": 270, "titleBaseline": "alphabetic"}}
             }}
          ],
          "resolve": {"axis": {"x": "independent"}}
        },
        {
          "width": 226, "height": 226,
          "title": {"text": "p=0.2"},
          "data": {"name": "a"},
          "transform": [{"filter": "datum.p == 'p=0.2'"}],
          "mark": {"type": "line", "strokeWidth": 3.2, "clip": true},
          "encoding": {
            "x": {"field": "t", "type": "quantitative", "scale": {"domain": [0, 5.9], "nice": false, "zero": false}, "axis": {"values": [0, 2, 4], "labels": false, "title": null, "grid": true}},
            "y": {"field": "v", "type": "quantitative", "scale": {"domain": [10, 24], "nice": false, "zero": false}, "axis": {"values": [10, 15, 20], "labels": false, "title": null, "grid": true}},
            "color": {"field": "s", "type": "nominal", "scale": {"domain": ["Landmark sensitivity", "Shortcut use rate"], "range": ["#1f77b4", "#ff7f0e"]},
              "legend": {"orient": "none", "legendX": -86.3, "legendY": 733.7, "direction": "horizontal", "columns": 2, "title": null, "symbolType": "M-4,0H4", "symbolSize": 176, "symbolStrokeWidth": 3, "symbolOffset": 13.5, "labelOffset": 28, "labelFontSize": 26, "labelColor": "black", "strokeColor": "#555555", "fillColor": "white", "padding": 15, "columnPadding": 38, "labelLimit": 500}}
          }
        },
        {
          "width": 226, "height": 226,
          "title": {"text": "p=0.5"},
          "data": {"name": "a"},
          "transform": [{"filter": "datum.p == 'p=0.5'"}],
          "layer": [
            {"mark": {"type": "line", "strokeWidth": 3.2, "clip": true},
             "encoding": {
               "x": {"field": "t", "type": "quantitative", "scale": {"domain": [0, 5.9], "nice": false, "zero": false}, "axis": {"values": [0, 2, 4], "grid": true, "title": "Trained time steps", "titleX": 238, "titleY": 71, "titleAlign": "center", "titleBaseline": "alphabetic"}},
               "y": {"field": "v", "type": "quantitative", "scale": {"domain": [10, 24], "nice": false, "zero": false}, "axis": {"values": [10, 15, 20], "grid": true, "title": null}},
               "color": {"field": "s", "type": "nominal", "scale": {"domain": ["Landmark sensitivity", "Shortcut use rate"], "range": ["#1f77b4", "#ff7f0e"]},
                 "legend": {"orient": "none", "legendX": -86.3, "legendY": 733.7, "direction": "horizontal", "columns": 2, "title": null, "symbolType": "M-4,0H4", "symbolSize": 176, "symbolStrokeWidth": 3, "symbolOffset": 13.5, "labelOffset": 28, "labelFontSize": 26, "labelColor": "black", "strokeColor": "#555555", "fillColor": "white", "padding": 15, "columnPadding": 38, "labelLimit": 500}}
             }},
            {"mark": {"type": "line", "opacity": 0},
             "encoding": {
               "x": {"field": "t", "type": "quantitative", "scale": {"domain": [0, 5.9], "nice": false, "zero": false}, "axis": {"orient": "bottom", "values": [0, 0.5, 1, 1.5, 2, 2.5, 3, 3.5, 4, 4.5, 5, 5.5], "labels": false, "grid": false, "tickSize": 4, "title": null}},
               "y": {"field": "v", "type": "quantitative", "scale": {"domain": [10, 24], "nice": false, "zero": false}, "axis": {"values": [10, 15, 20], "grid": true, "title": null}}
             }}
          ],
          "resolve": {"axis": {"x": "independent"}}
        },
        {
          "width": 226, "height": 226,
          "title": {"text": "p=0.8"},
          "data": {"name": "a"},
          "transform": [{"filter": "datum.p == 'p=0.8'"}],
          "layer": [
            {"mark": {"type": "line", "strokeWidth": 3.2, "clip": true},
             "encoding": {
               "x": {"field": "t", "type": "quantitative", "scale": {"domain": [0, 5.9], "nice": false, "zero": false}, "axis": {"values": [0, 2, 4], "grid": true, "title": "×10", "titleX": 214.5, "titleY": 73.3, "titleAlign": "right", "titleBaseline": "alphabetic"}},
               "y": {"field": "v", "type": "quantitative", "scale": {"domain": [10, 24], "nice": false, "zero": false}, "axis": {"values": [10, 15, 20], "labels": false, "grid": true, "title": null}},
               "color": {"field": "s", "type": "nominal", "scale": {"domain": ["Landmark sensitivity", "Shortcut use rate"], "range": ["#1f77b4", "#ff7f0e"]},
                 "legend": {"orient": "none", "legendX": -86.3, "legendY": 733.7, "direction": "horizontal", "columns": 2, "title": null, "symbolType": "M-4,0H4", "symbolSize": 176, "symbolStrokeWidth": 3, "symbolOffset": 13.5, "labelOffset": 28, "labelFontSize": 26, "labelColor": "black", "strokeColor": "#555555", "fillColor": "white", "padding": 15, "columnPadding": 38, "labelLimit": 500}}
             }},
            {"mark": {"type": "line", "opacity": 0},
             "encoding": {
               "x": {"field": "t", "type": "quantitative", "scale": {"domain": [0, 5.9], "nice": false, "zero": false}, "axis": {"orient": "bottom", "values": [0, 0.5, 1, 1.5, 2, 2.5, 3, 3.5, 4, 4.5, 5, 5.5], "labels": false, "grid": false, "tickSize": 4, "title": "6", "titleFontSize": 19, "titleX": 215.5, "titleY": 63, "titleAlign": "left", "titleBaseline": "alphabetic"}},
               "y": {"field": "v", "type": "quantitative", "scale": {"domain": [10, 24], "nice": false, "zero": false}, "axis": {"values": [10, 15, 20], "labels": false, "grid": true, "title": null}}
             }}
          ],
          "resolve": {"axis": {"x": "independent"}}
        }
      ],
      "columns": 2,
      "spacing": {"row": 149, "column": 53},
      "bounds": "flush"
    },
    {
      "vconcat": [
        {
          "width": 398, "height": 226,
          "title": {"text": "B.", "anchor": "start", "fontWeight": "bold"},
          "data": {"name": "b"},
          "layer": [
            {"mark": {"type": "line", "strokeWidth": 3.2, "clip": true},
             "encoding": {
               "x": {"field": "t", "type": "quantitative", "scale": {"domain": [0, 5.9], "nice": false, "zero": false}, "axis": {"values": [0, 2, 4], "grid": true, "title": "Trained time steps", "titleY": 68, "titleBaseline": "alphabetic"}},
               "y": {"field": "v", "type": "quantitative", "scale": {"domain": [10, 24], "nice": false, "zero": false}, "axis": {"values": [10, 15, 20], "grid": true, "title": null}},
               "stroke": {"field": "p", "type": "nominal", "scale": {"domain": ["p=0.1", "p=0.2", "p=0.5", "p=0.8"], "range": ["#1f77b4", "#ff7f0e", "#2ca02c", "#d62728"]},
                 "legend": {"orient": "none", "legendX": 668.7, "legendY": 695.7, "direction": "horizontal", "columns": 2, "title": null, "symbolType": "M-4,0H4", "symbolSize": 176, "symbolStrokeWidth": 3, "symbolOffset": 13.5, "labelOffset": 28, "labelFontSize": 26, "labelColor": "black", "strokeColor": "#555555", "fillColor": "white", "padding": 14, "columnPadding": 39, "rowPadding": 14}}
             }},
            {"mark": {"type": "line", "opacity": 0},
             "encoding": {
               "x": {"field": "t", "type": "quantitative", "scale": {"domain": [0, 5.9], "nice": false, "zero": false}, "axis": {"orient": "bottom", "values": [0, 0.5, 1, 1.5, 2, 2.5, 3, 3.5, 4, 4.5, 5, 5.5], "labels": false, "grid": false, "tickSize": 4, "title": "×10", "titleX": 382, "titleY": 77, "titleAlign": "right", "titleBaseline": "alphabetic"}},
               "y": {"field": "v", "type": "quantitative", "scale": {"domain": [10, 24], "nice": false, "zero": false}, "axis": {"orient": "left", "values": [10, 11, 12, 13, 14, 15, 16, 17, 18, 19, 20, 21, 22, 23], "labels": false, "grid": false, "tickSize": 4, "title": null}}
             }},
            {"mark": {"type": "line", "opacity": 0},
             "encoding": {
               "x": {"field": "t", "type": "quantitative", "scale": {"domain": [0, 5.9], "nice": false, "zero": false}, "axis": {"orient": "bottom", "labels": false, "ticks": false, "grid": false, "title": "6", "titleFontSize": 19, "titleX": 383, "titleY": 63, "titleAlign": "left", "titleBaseline": "alphabetic"}},
               "y": {"field": "v", "type": "quantitative", "scale": {"domain": [10, 24], "nice": false, "zero": false}, "axis": null}
             }}
          ],
          "resolve": {"axis": {"x": "independent", "y": "independent"}}
        },
        {
          "width": 398, "height": 226,
          "title": {"text": "C.", "anchor": "start", "fontWeight": "bold"},
          "data": {"name": "c"},
          "layer": [
            {"mark": {"type": "line", "strokeWidth": 3.2, "clip": true},
             "encoding": {
               "x": {"field": "r", "type": "quantitative", "scale": {"domain": [0.0435, 0.948], "nice": false, "zero": false}, "axis": {"values": [0.25, 0.5, 0.75], "labelExpr": "'' + datum.value", "grid": true, "title": "Shortcut use rate", "titleY": 70, "titleBaseline": "alphabetic"}},
               "y": {"field": "v", "type": "quantitative", "scale": {"domain": [10, 24], "nice": false, "zero": false}, "axis": {"values": [10, 15, 20], "grid": true, "title": null}},
               "order": {"field": "i", "type": "quantitative"},
               "stroke": {"field": "p", "type": "nominal", "scale": {"domain": ["p=0.1", "p=0.2", "p=0.5", "p=0.8"], "range": ["#1f77b4", "#ff7f0e", "#2ca02c", "#d62728"]},
                 "legend": {"orient": "none", "legendX": 668.7, "legendY": 695.7, "direction": "horizontal", "columns": 2, "title": null, "symbolType": "M-4,0H4", "symbolSize": 176, "symbolStrokeWidth": 3, "symbolOffset": 13.5, "labelOffset": 28, "labelFontSize": 26, "labelColor": "black", "strokeColor": "#555555", "fillColor": "white", "padding": 14, "columnPadding": 39, "rowPadding": 14}}
             }},
            {"mark": {"type": "line", "opacity": 0},
             "encoding": {
               "x": {"field": "r", "type": "quantitative", "scale": {"domain": [0.0435, 0.948], "nice": false, "zero": false}, "axis": {"orient": "bottom", "values": [0.05, 0.1, 0.15, 0.2, 0.25, 0.3, 0.35, 0.4, 0.45, 0.5, 0.55, 0.6, 0.65, 0.7, 0.75, 0.8, 0.85, 0.9], "labels": false, "grid": false, "tickSize": 4, "title": null}},
               "y": {"field": "v", "type": "quantitative", "scale": {"domain": [10, 24], "nice": false, "zero": false}, "axis": {"orient": "left", "values": [10, 11, 12, 13, 14, 15, 16, 17, 18, 19, 20, 21, 22, 23], "labels": false, "grid": false, "tickSize": 4, "title": null}}
             }}
          ],
          "resolve": {"axis": {"x": "independent", "y": "independent"}}
        }
      ],
      "spacing": 150.5,
      "bounds": "flush"
    }
  ]
}
